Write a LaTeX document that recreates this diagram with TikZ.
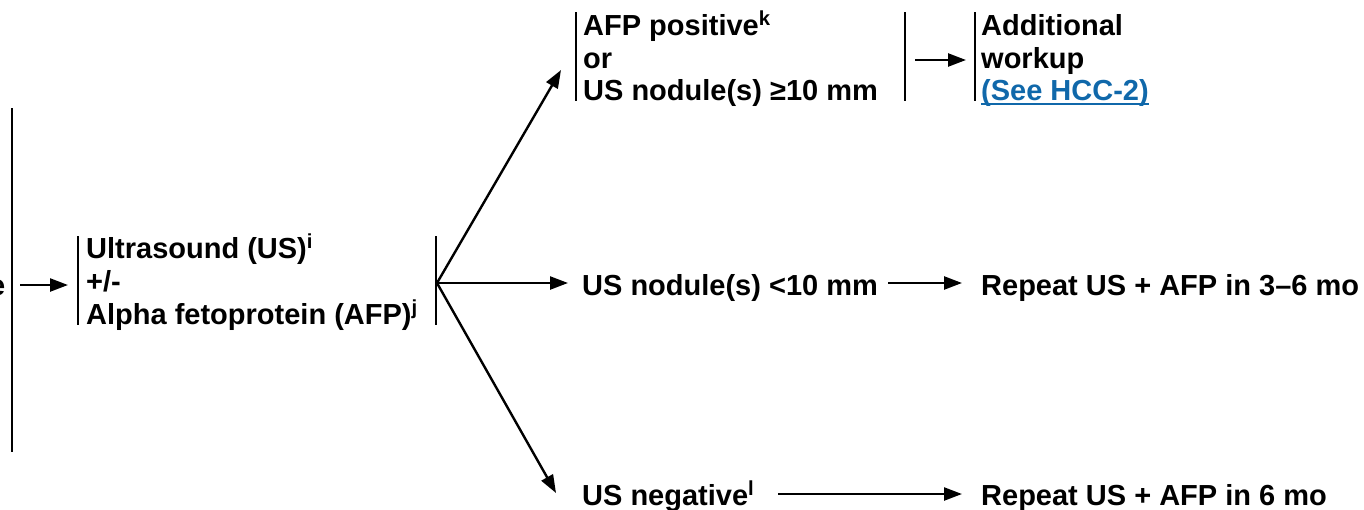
\documentclass[tikz,border=0pt]{standalone}
\usepackage{fontspec}
\setmainfont{Liberation Sans}
\usetikzlibrary{arrows.meta}
\definecolor{linkblue}{RGB}{16,104,170}
\tikzset{
  txt/.style={anchor=base west, inner sep=0pt, font=\fontsize{29}{32.5}\selectfont\bfseries},
  bar/.style={line width=2.4pt},
  arr/.style={line width=2.4pt, -{Triangle[length=18pt,width=13pt]}},
}
\begin{document}
\begin{tikzpicture}[x=1pt,y=-1pt]
\clip (0,0) rectangle (1364,509);
% cut-off word end
\node[txt] (e) at (-11,295) {e};
\draw[bar] (12,108) -- (12,452);
\coordinate (a0s) at (20,285);
\coordinate (a0e) at (68,285);
\draw[arr] (a0s) -- (a0e);
% ultrasound block
\draw[bar] (78,236) -- (78,325);
\node[txt] (us1) at (86,258) {Ultrasound (US)\textsuperscript{i}};
\node[txt] (us2) at (86,291) {+/-};
\node[txt] (us3) at (86,324) {Alpha fetoprotein (AFP)\textsuperscript{j}};
\draw[bar] (436,236) -- (436,325);
\coordinate (br) at (437,283);
\coordinate (tTop) at (561,70);
\coordinate (tMid) at (568,283);
\coordinate (tBot) at (556,493);
\draw[arr] (br) -- (tTop);
\draw[arr] (br) -- (tMid);
\draw[arr] (br) -- (tBot);
% top block
\draw[bar] (576,12) -- (576,101);
\node[txt] (p1) at (583,35) {AFP positive\textsuperscript{k}};
\node[txt] (p2) at (583,68) {or};
\node[txt] (p3) at (583,100) {US nodule(s) ≥10 mm};
\draw[bar] (905,12) -- (905,101);
\coordinate (a1s) at (915,60);
\coordinate (a1e) at (966,60);
\draw[arr] (a1s) -- (a1e);
\draw[bar] (975,12) -- (975,101);
\node[txt] (w1) at (981,35) {Additional};
\node[txt] (w2) at (981,68) {workup};
\node[txt, text=linkblue] (w3) at (981,100) {(See HCC-2)};
\draw[linkblue, line width=2pt] ([yshift=-3.5pt]w3.base west) -- ([yshift=-3.5pt]w3.base east);
% middle row
\node[txt] (m1) at (582,295) {US nodule(s) <10 mm};
\coordinate (a2s) at (888,283);
\coordinate (a2e) at (962,283);
\draw[arr] (a2s) -- (a2e);
\node[txt] (m2) at (981,295) {Repeat US + AFP in 3–6 mo};
% bottom row
\node[txt] (b1) at (582,505) {US negative\textsuperscript{l}};
\coordinate (a3s) at (778,494);
\coordinate (a3e) at (962,494);
\draw[arr] (a3s) -- (a3e);
\node[txt] (b2) at (981,505) {Repeat US + AFP in 6 mo};
\end{tikzpicture}
\end{document}
